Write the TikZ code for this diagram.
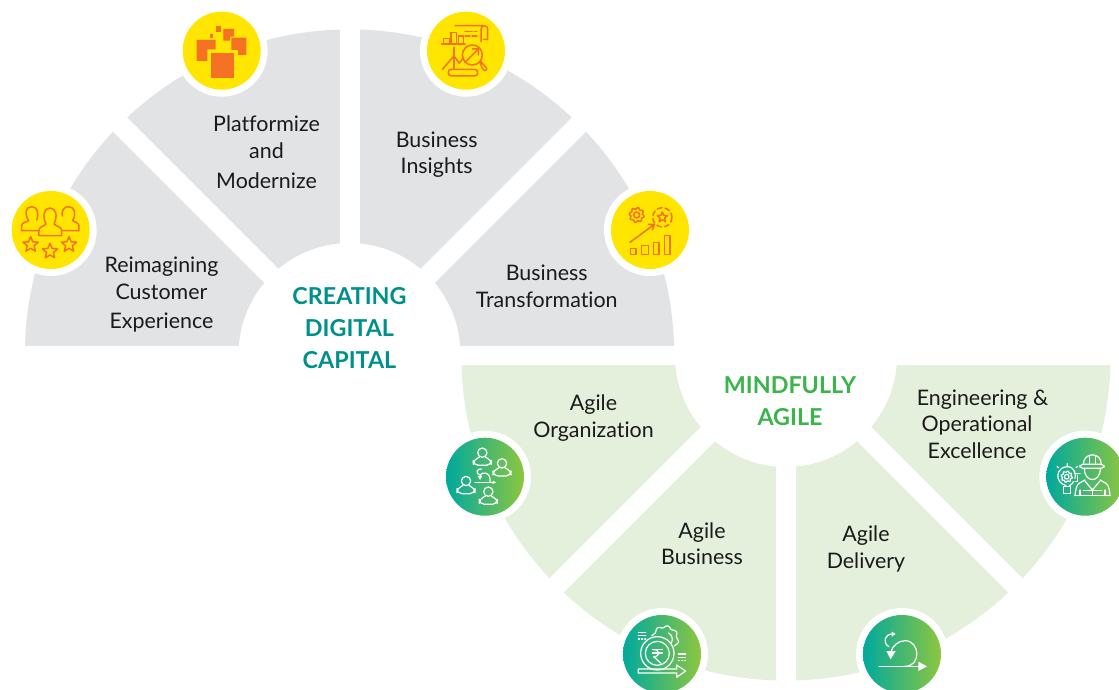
\documentclass[tikz,border=0pt]{standalone}
\usepackage{fontspec}
\setmainfont{Lato}[Ligatures=NoCommon]
\definecolor{grayseg}{HTML}{E1E3E5}
\definecolor{greenseg}{HTML}{E4F0DB}
\definecolor{yellowdisc}{HTML}{FFE500}
\definecolor{orangeicon}{HTML}{F47125}
\definecolor{tealhead}{HTML}{00908A}
\definecolor{greenhead}{HTML}{39B54A}
\definecolor{gradleft}{HTML}{00A99D}
\definecolor{gradright}{HTML}{8DC63F}
\definecolor{labeltext}{HTML}{1A1A1A}
\tikzset{
  lbl/.style={font=\fontsize{21.4}{26.5}\selectfont,align=center,text=labeltext,anchor=base,inner sep=0pt},
  headlbl/.style={font=\fontsize{23.3}{32}\selectfont\bfseries,align=center,anchor=base,inner sep=0pt},
  oi/.style={draw=orangeicon,line width=1.5pt,line join=round,line cap=round},
  wi/.style={draw=white,line width=1.2pt,line join=round,line cap=round},
  band/.style={draw=white,line width=20pt},
  crop/.style={shift={#1},scale=0.33333}
}
\newcommand{\ringdisc}[3]{%
  \fill[white] (#1,#2) circle (46);
  \fill[#3] (#1,#2) circle (39);}
\newcommand{\graddisc}[2]{%
  \fill[white] (#1,#2) circle (46);
  \shade[left color=gradleft,right color=gradright] (#1,#2) circle (39);}
\newcommand{\gearplot}[6]{% x y r amp from to
  plot[domain=#5:#6,samples=121,variable=\t] ({#1+(#3+#4*sin(8*\t))*cos(\t)},{#2+(#3+#4*sin(8*\t))*sin(\t)})}
\newcommand{\starpath}[3]{% x y R
  (#1,#2) +(-90:#3) -- +(-54:#3*0.45) -- +(-18:#3) -- +(18:#3*0.45) -- +(54:#3) -- +(90:#3*0.45) -- +(126:#3) -- +(162:#3*0.45) -- +(198:#3) -- +(234:#3*0.45) -- cycle}
\newcommand{\agileperson}[2]{%
  \draw[wi] (#1,#2) circle (14);
  \draw[wi,rounded corners=5] ({#1-9},{#2+14}) -- ({#1-27},{#2+20}) -- ({#1-27},{#2+38}) -- ({#1+27},{#2+38}) -- ({#1+27},{#2+20}) -- ({#1+9},{#2+14});}
\begin{document}
\begin{tikzpicture}[x=1pt,y=-1pt]
\useasboundingbox (0,0) rectangle (1119,690);
\clip (0,0) rectangle (1119,690);

% upper half ring
\begin{scope}
  \clip (0,0) rectangle (700,345);
  \fill[grayseg,even odd rule] (349.5,354) circle (324.6) (349.5,354) circle (111);
  \draw[band] (350,0) -- (350,354);
  \draw[band] (349.5,354) -- ++(-340,-340);
  \draw[band] (349.5,354) -- ++(340,-340);
\end{scope}
% lower half ring
\begin{scope}
  \clip (440,365) rectangle (1119,690);
  \fill[greenseg,even odd rule] (786,356) circle (324.6) (786,356) circle (111);
  \draw[band] (786,356) -- (786,690);
  \draw[band] (786,356) -- ++(-340,340);
  \draw[band] (786,356) -- ++(340,340);
\end{scope}

% discs
\ringdisc{221.7}{50.7}{yellowdisc}
\ringdisc{50.7}{230}{yellowdisc}
\ringdisc{466}{50.7}{yellowdisc}
\ringdisc{650}{230}{yellowdisc}
\graddisc{485}{476.7}
\graddisc{662}{654}
\graddisc{902}{654}
\graddisc{1085.3}{476.7}

% Platformize icon
\begin{scope}[crop={(170,0)}]
  \fill[orangeicon] (123,159) rectangle (191,233);
  \fill[orangeicon] (80,120) -- (137,120) -- (137,148) -- (112,148) -- (112,183) -- (80,183) -- cycle;
  \fill[orangeicon] (184,113) -- (229,113) -- (229,165) -- (204,165) -- (204,150) -- (184,150) -- cycle;
  \fill[orangeicon] (160,87) -- (192,87) -- (192,110) -- (180,110) -- (180,122) -- (160,122) -- cycle;
  \fill[orangeicon] (138,78) rectangle (153,95);
  \fill[orangeicon] (120,102) rectangle (129,114);
\end{scope}

% Reimagining icon
\begin{scope}[crop={(0,180)}]
  \draw[oi] (115,152) -- (65,152) -- (65,138) .. controls (65,128) and (75,128) .. (86,122) .. controls (72,100) and (78,80) .. (95,80) .. controls (112,80) and (118,100) .. (110,120);
  \draw[oi] (185,152) -- (237,152) -- (237,138) .. controls (237,128) and (227,128) .. (218,122) .. controls (230,100) and (224,80) .. (205,80) .. controls (190,80) and (184,95) .. (187,108);
  \draw[oi] (117,167) -- (185,167) -- (185,152) .. controls (185,140) and (170,140) .. (162,132) .. controls (174,108) and (168,84) .. (150,84) .. controls (132,84) and (126,108) .. (138,132) .. controls (130,140) and (117,140) .. (117,152) -- cycle;
  \draw[oi] \starpath{92}{194}{24};
  \draw[oi] \starpath{150}{214}{24};
  \draw[oi] \starpath{207}{194}{24};
\end{scope}

% Insights icon
\begin{scope}[crop={(415,0)}]
  \draw[oi] (120,77) -- (208,77) .. controls (215,77) and (218,82) .. (218,88) -- (218,118) -- (205,118) (208,77) .. controls (202,77) and (198,82) .. (198,88) -- (198,125);
  \draw[oi] (150,95) -- (172,95) (178,95) -- (186,95) (150,108) -- (165,108) (171,108) -- (186,108);
  \draw[oi] (80,132) -- (150,132);
  \draw[oi] (85,132) -- (85,115) -- (103,115) -- (103,132);
  \draw[oi] (108,132) -- (108,97) -- (125,97) -- (125,132);
  \draw[oi] (130,132) -- (130,108) -- (145,108) -- (145,132);
  \draw[oi] (117,142) -- (117,205);
  \draw[oi] (82,208) -- (117,168) -- (133,190) -- (146,172);
  \draw[oi] (172,165) circle (30);
  \draw[oi] (150,187) -- (190,147) (172,147) -- (190,147) -- (190,165);
  \draw[oi] (195,187) -- (200,200) .. controls (205,215) and (215,215) .. (215,205) -- (198,185);
  \draw[oi,rounded corners=3] (100,208) rectangle (188,228);
\end{scope}

% Transformation icon
\begin{scope}[crop={(600,185)}]
  \draw[oi] \gearplot{110}{90}{20}{2.5}{0}{360};
  \draw[oi] (110,90) circle (9);
  \draw[oi] \starpath{187}{97}{16};
  \draw[oi,dashed,dash pattern=on 5pt off 3pt] (187,97) circle (29);
  \draw[oi] (90,172) -- (163,118) (145,118) -- (163,118) -- (157,135);
  \draw[oi] (92,190) rectangle (108,208);
  \draw[oi] (125,182) rectangle (145,208);
  \draw[oi] (160,172) rectangle (177,208);
  \draw[oi] (193,152) rectangle (210,208);
\end{scope}

% Agile Organization icon
\begin{scope}[crop={(440,430)}]
  \agileperson{127}{68}
  \agileperson{186}{100}
  \agileperson{78}{153}
  \agileperson{145}{185}
  \draw[wi] (105,157) -- (165,157);
  \fill[white] (158,152) -- (168,157) -- (158,162) -- cycle;
  \draw[wi] (150,155) .. controls (155,130) and (125,118) .. (120,140);
  \draw[wi] (120,135) .. controls (105,130) and (110,115) .. (125,117);
  \fill[white] (113,138) -- (127,138) -- (120,150) -- cycle;
\end{scope}

% Agile Business icon
\begin{scope}[crop={(615,600)}]
  \draw[wi] \gearplot{150}{118}{38}{3}{-165}{35};
  \draw[wi] (150,118) ++(-60:22) arc (-60:30:22);
  \draw[wi] (127,160) circle (50);
  \draw[wi] (127,160) circle (36);
  \draw[wi] (112,149) -- (142,149) (112,159) -- (142,159);
  \draw[wi] (116,149) .. controls (136,149) and (136,170) .. (116,170) -- (138,190);
  \draw[wi] (70,97) -- (92,97) (70,107) -- (92,107);
  \draw[wi,dotted] (70,117) -- (92,117);
  \draw[wi] (190,162) -- (212,162) (190,172) -- (212,172);
  \draw[wi,dotted] (190,182) -- (212,182);
  \draw[wi] (70,207) -- (185,207) -- (185,195) -- (212,213) -- (185,232) -- (185,219) -- (70,219) -- cycle;
\end{scope}

% Agile Delivery icon
\begin{scope}[crop={(855,600)}]
  \draw[wi] (72,199) -- (192,199);
  \fill[white] (190,185) -- (216,199) -- (190,213) -- cycle;
  \draw[wi] (150,199) .. controls (200,199) and (195,122) .. (150,122) .. controls (130,122) and (112,138) .. (108,155);
  \fill[white] (94,153) -- (122,153) -- (107,178) -- cycle;
  \draw[wi] (102,140) .. controls (82,130) and (88,102) .. (112,102);
  \fill[white] (110,95) -- (122,102) -- (110,110) -- cycle;
\end{scope}

% Engineering icon
\begin{scope}[crop={(1030,425)}]
  \draw[wi] (160,118) .. controls (160,80) and (214,80) .. (214,118);
  \draw[wi,rounded corners=3] (150,118) rectangle (222,130);
  \draw[wi] (178,93) -- (178,118) (196,93) -- (196,118);
  \draw[wi] (163,130) .. controls (163,175) and (211,175) .. (211,130);
  \draw[wi] (135,212) -- (240,212);
  \draw[wi] (165,165) -- (147,175) .. controls (140,180) and (136,195) .. (135,212);
  \draw[wi] (210,165) -- (228,175) .. controls (236,180) and (239,195) .. (240,212);
  \draw[wi] (165,168) -- (187,195) -- (210,168);
  \draw[wi] (187,195) -- (187,212) (150,195) -- (150,212) (225,195) -- (225,212) (160,197) -- (214,197);
  \draw[wi] (108,182) .. controls (70,170) and (80,125) .. (112,125) .. controls (135,125) and (138,150) .. (135,160);
  \draw[wi] (118,182) .. controls (125,178) and (128,175) .. (130,170);
  \draw[wi] \gearplot{110}{155}{15}{2}{0}{360};
  \draw[wi] (110,155) circle (7);
  \draw[wi] (100,185) rectangle (122,206);
  \draw[wi] (112,122) -- (112,116) (85,128) -- (81,124) (138,128) -- (143,124);
  \draw[wi] (135,145) -- (150,145) (135,170) -- (142,170) -- (142,150);
\end{scope}

% labels (y = baseline of the last line)
\node[lbl] (platformize) at (266.5,188) {Platformize\\and\\[3.5pt]Modernize};
\node[lbl] (reimagining) at (161.5,328) {Reimagining\\Customer\\[2.5pt]Experience};
\node[lbl] (insights) at (436.7,174) {Business\\Insights};
\node[lbl] (transformation) at (546.7,307) {Business\\Transformation};
\node[lbl] (organization) at (593.5,437) {Agile\\Organization};
\node[lbl] (business) at (702,564.5) {Agile\\Business};
\node[lbl] (delivery) at (866,568) {Agile\\Delivery};
\node[lbl] (engineering) at (982.5,458) {Engineering \&\\\mbox{Operational\kern11pt}\\\mbox{Excellence\kern11pt}};
\node[headlbl,text=tealhead] (capital) at (349.5,368) {CREATING\\DIGITAL\\CAPITAL};
\node[headlbl,text=greenhead] (agile) at (790,425) {MINDFULLY\\AGILE};
\end{tikzpicture}
\end{document}
